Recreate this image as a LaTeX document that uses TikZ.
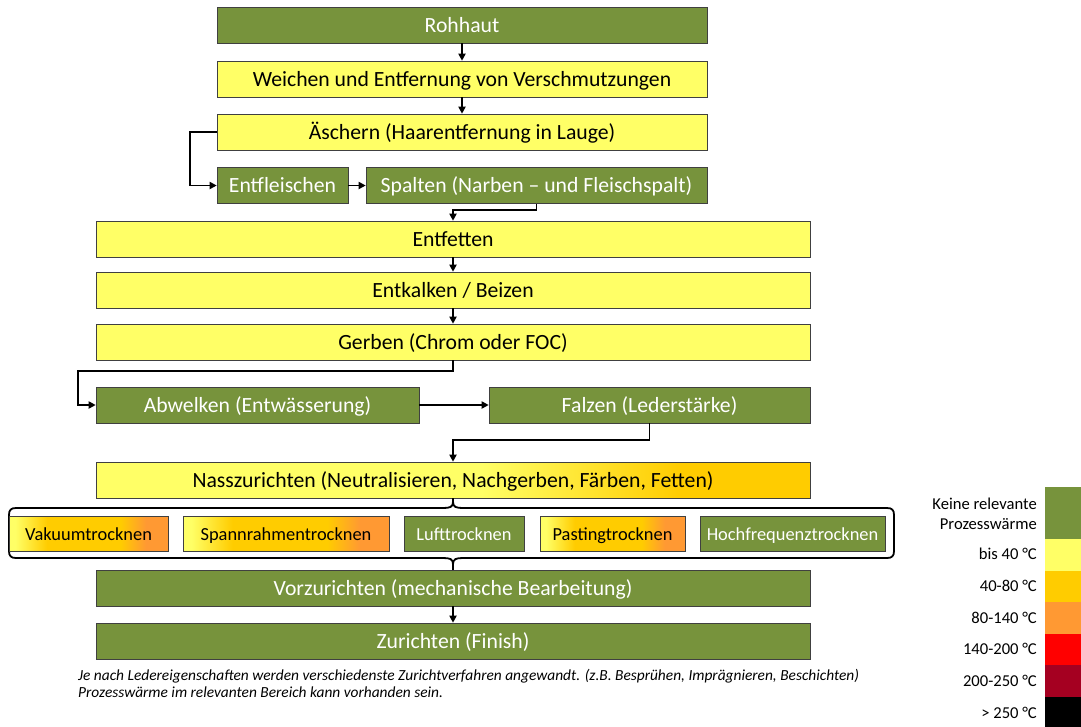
\documentclass[tikz,border=0pt]{standalone}
\usepackage{fontspec}
\setmainfont{Carlito}
\usetikzlibrary{arrows.meta,positioning}
\definecolor{gruen}{HTML}{77933C}
\definecolor{gelb}{HTML}{FFFF66}
\definecolor{gold}{HTML}{FFCC00}
\definecolor{orangeton}{HTML}{FF9933}
\definecolor{rot}{HTML}{FF0000}
\definecolor{dunkelrot}{HTML}{A50021}
\definecolor{rand}{HTML}{404040}
\pgfdeclarehorizontalshading{nassverlauf}{100bp}{color(0bp)=(gelb); color(52bp)=(gelb); color(66bp)=(gold); color(100bp)=(gold)}
\pgfdeclarehorizontalshading{trockenverlauf}{100bp}{color(0bp)=(gelb); color(27bp)=(gelb); color(37bp)=(gold); color(60bp)=(gold); color(68bp)=(orangeton); color(100bp)=(orangeton)}
\begin{document}
\begin{tikzpicture}[x=1pt,y=-1pt,
  kasten/.style={draw=rand,line width=0.6pt,minimum height=36pt,inner sep=0pt,text height=14pt,text depth=0pt,font=\fontsize{21.7}{26}\selectfont},
  gruenbox/.style={kasten,fill=gruen,text=white},
  gelbbox/.style={kasten,fill=gelb},
  nassbox/.style={kasten,shade,shading=nassverlauf,shading angle=0},
  trocken/.style={kasten,minimum height=35pt,text height=13pt,font=\fontsize{18.4}{22}\selectfont},
  trockenverl/.style={trocken,shade,shading=trockenverlauf,shading angle=0},
  pfeil/.style={line width=1.8pt,-{Triangle[length=7pt,width=7pt]}},
  linie/.style={line width=1.8pt},
  legende/.style={anchor=east,align=right,inner sep=0pt,font=\fontsize{16.6}{19.5}\selectfont}]
\useasboundingbox (0,0) rectangle (1081,726);
\node[gruenbox,minimum width=490pt] (rohhaut) at (462,25) {Rohhaut};
\node[gelbbox,minimum width=490pt] (weichen) at (462,79) {Weichen und Entfernung von Verschmutzungen};
\node[gelbbox,minimum width=490pt] (aeschern) at (462,132) {Äschern (Haarentfernung in Lauge)};
\node[gruenbox,minimum width=131pt] (entfleischen) at (282.5,185.5) {Entfleischen};
\node[gruenbox,minimum width=341pt] (spalten) at (536.5,185.5) {Spalten (Narben – und Fleischspalt)};
\node[gelbbox,minimum width=714pt] (entfetten) at (453,239) {Entfetten};
\node[gelbbox,minimum width=714pt] (entkalken) at (453,290) {Entkalken / Beizen};
\node[gelbbox,minimum width=714pt] (gerben) at (453,342) {Gerben (Chrom oder FOC)};
\node[gruenbox,minimum width=323pt] (abwelken) at (257.5,405) {Abwelken (Entwässerung)};
\node[gruenbox,minimum width=321pt] (falzen) at (649.5,405) {Falzen (Lederstärke)};
\node[nassbox,minimum width=714pt] (nass) at (453,480) {Nasszurichten (Neutralisieren, Nachgerben, Färben, Fetten)};

\coordinate (klammeroben) at (453,502);
\coordinate (klammerunten) at (453,564);
\draw[linie] (klammeroben) .. controls (453,507) and (450,508) .. (443,508) -- (16,508)
  .. controls (11,508) and (9,510) .. (9,515) -- (9,551) .. controls (9,556) and (11,558) .. (16,558)
  -- (443,558) .. controls (450,558) and (453,559) .. (klammerunten)
  .. controls (453,559) and (456,558) .. (463,558) -- (887,558)
  .. controls (892,558) and (894,556) .. (894,551) -- (894,515)
  .. controls (894,510) and (892,508) .. (887,508) -- (463,508)
  .. controls (456,508) and (453,507) .. (klammeroben);

\node[trockenverl,minimum width=159pt] (vakuum) at (88.5,534) {Vakuumtrocknen};
\node[trockenverl,minimum width=206pt] (spannrahmen) at (286,534) {Spannrahmentrocknen};
\node[trocken,fill=gruen,text=white,minimum width=120pt] (luft) at (464,534) {Lufttrocknen};
\node[trockenverl,minimum width=145pt] (pasting) at (612.5,534) {Pastingtrocknen};
\node[trocken,fill=gruen,text=white,minimum width=185pt] (hochfrequenz) at (792.5,534) {Hochfrequenztrocknen};
\node[gruenbox,minimum width=714pt] (vorzurichten) at (453,588) {Vorzurichten (mechanische Bearbeitung)};
\node[gruenbox,minimum width=714pt] (zurichten) at (453,641) {Zurichten (Finish)};
\node[anchor=north west,align=left,inner sep=0pt,font=\itshape\fontsize{15.4}{17}\selectfont] (hinweis) at (78,669)
  {Je nach Ledereigenschaften werden verschiedenste Zurichtverfahren angewandt. (z.B. Besprühen, Imprägnieren, Beschichten)\\
   Prozesswärme im relevanten Bereich kann vorhanden sein.};

\draw[pfeil] (rohhaut) -- (weichen);
\draw[pfeil] (weichen) -- (aeschern);
\draw[pfeil] (aeschern.west) -- ++(-27,0) |- (entfleischen.west);
\draw[pfeil] (entfleischen) -- (spalten);
\draw[pfeil] (spalten.south) -- ++(0,6) -| (entfetten.north);
\draw[pfeil] (entfetten) -- (entkalken);
\draw[pfeil] (entkalken) -- (gerben);
\draw[pfeil] (gerben.south) -- ++(0,11) -| ([xshift=-18pt]abwelken.west) -- (abwelken.west);
\draw[pfeil] (abwelken) -- (falzen);
\draw[pfeil] (falzen.south) -- ++(0,17) -| (nass.north);
\draw[linie] (nass.south) -- (klammeroben);
\draw[linie] (klammerunten) -- (vorzurichten.north);
\draw[pfeil] (vorzurichten) -- (zurichten);

\fill[gruen] (1045,487) rectangle (1081,539);
\foreach \farbe [count=\i from 0] in {gelb,gold,orangeton,rot,dunkelrot,black}
  \fill[\farbe] (1045,{539+31.5*\i}) rectangle (1081,{539+31.5*(\i+1)});
\node[legende] (lg0) at (1037,514) {Keine relevante\\Prozesswärme};
\foreach \txt/\yy [count=\i] in {bis 40 °C/554,40-80 °C/586,80-140 °C/618,140-200 °C/649,200-250 °C/681,> 250 °C/713}
  \node[legende] (lg\i) at (1037,\yy) {\txt};
\end{tikzpicture}
\end{document}
